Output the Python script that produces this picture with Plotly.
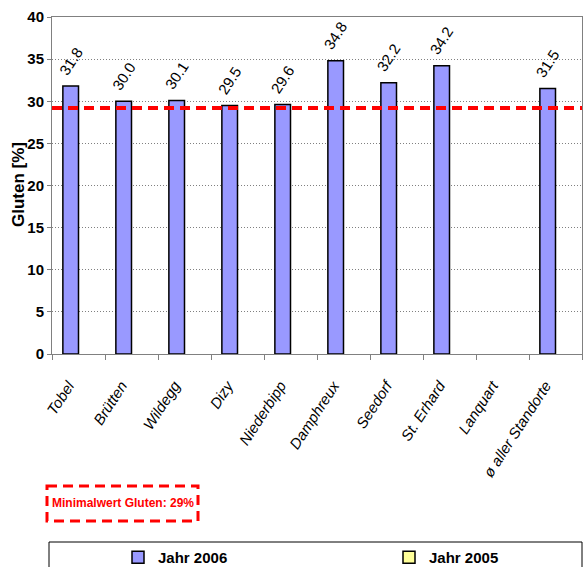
import plotly.graph_objects as go

# ---- data ----
categories = ["Tobel", "Brütten", "Wildegg", "Dizy", "Niederbipp", "Damphreux",
              "Seedorf", "St. Erhard", "Lanquart", "ø aller Standorte"]
gluten_2006 = [31.8, 30.0, 30.1, 29.5, 29.6, 34.8, 32.2, 34.2, None, 31.5]
gluten_2005 = [None] * len(categories)
labels_2006 = ["31.8", "30.0", "30.1", "29.5", "29.6", "34.8", "32.2", "34.2", "", "31.5"]
min_gluten = 29.2
y_ticks = [0, 5, 10, 15, 20, 25, 30, 35, 40]

W, H = 584, 567
ML, MR, MT, MB = 52, 2, 17, 213
PW = W - ML - MR
PH = H - MT - MB

def px_x(x):
    return (x - ML) / PW

def px_y(y):
    return (H - MB - y) / PH

bold_font = "Liberation Sans, Arial, sans-serif"
arial = "Liberation Sans, Arial, sans-serif"

fig = go.Figure()
fig.add_trace(go.Bar(
    x=categories, y=gluten_2006, name="Jahr 2006", legend="legend",
    marker=dict(color="#9999FF", line=dict(color="black", width=1.5)),
    cliponaxis=False,
))
fig.add_trace(go.Bar(
    x=categories, y=gluten_2005, name="Jahr 2005", legend="legend2",
    marker=dict(color="#FFFF99", line=dict(color="black", width=1.5)),
))

# rotated value labels above the 2006 bars
for cat, val, lab in zip(categories, gluten_2006, labels_2006):
    if val is None:
        continue
    fig.add_annotation(x=cat, y=val, xref="x", yref="y", text=lab,
                       showarrow=False, textangle=-57,
                       xanchor="center", yanchor="middle",
                       xshift=-8, yshift=25,
                       font=dict(family=arial, size=15, color="black"))

# threshold line
fig.add_shape(type="line", xref="paper", yref="y", x0=0, x1=1,
              y0=min_gluten, y1=min_gluten,
              line=dict(color="#FF0000", width=4, dash="10px,6px"))

# threshold text box
fig.add_shape(type="rect", xref="paper", yref="paper",
              x0=px_x(47), x1=px_x(198), y0=px_y(486), y1=px_y(521),
              line=dict(color="#FF0000", width=3, dash="10px,6px"))
fig.add_annotation(xref="paper", yref="paper", x=px_x(123), y=px_y(503),
                   xanchor="center", yanchor="middle",
                   text="<b>Minimalwert Gluten: 29%</b>", showarrow=False,
                   font=dict(family=bold_font, size=12, color="#FF0000"))

# y axis title
fig.add_annotation(xref="paper", yref="paper", x=px_x(18), y=px_y(185),
                   text="<b>Gluten [%]</b>", showarrow=False, textangle=-90,
                   xanchor="center", yanchor="middle",
                   font=dict(family=arial, size=17, color="black"))

# legend box
fig.add_shape(type="rect", xref="paper", yref="paper",
              x0=px_x(49), x1=px_x(582), y0=px_y(542), y1=px_y(580),
              line=dict(color="black", width=1))

legend_common = dict(orientation="h", xref="container", yref="container",
                     xanchor="left", yanchor="top", y=1 - 541 / H,
                     font=dict(family=bold_font, size=15, color="black", weight="bold"),
                     bgcolor="rgba(0,0,0,0)")

fig.update_layout(
    width=W, height=H,
    margin=dict(l=ML, r=MR, t=MT, b=MB, autoexpand=False),
    paper_bgcolor="white", plot_bgcolor="white",
    barmode="group", bargap=0.41, bargroupgap=0,
    showlegend=True,
    legend=dict(legend_common, x=118 / W),
    legend2=dict(legend_common, x=389 / W),
    font=dict(family=arial, color="black"),
)
fig.update_xaxes(
    type="category", tickson="boundaries", ticks="outside", ticklen=5,
    tickcolor="#808080", showline=True, linecolor="#808080", linewidth=1,
    mirror=True, tickangle=-57, ticklabelstandoff=16, ticklabelshift=-10,
    automargin=False,
    tickfont=dict(family=arial, size=15, color="black", style="italic"),
    showgrid=False,
)
fig.update_yaxes(
    range=[0, 40], tickvals=y_ticks, ticktext=[str(v) for v in y_ticks],
    ticks="outside", ticklen=4, tickcolor="#808080", automargin=False,
    showline=True, linecolor="#808080", linewidth=1, mirror=True,
    showgrid=True, gridcolor="#808080", gridwidth=1, griddash="1px,2px",
    zeroline=False,
    tickfont=dict(family=bold_font, size=15, color="black", weight="bold"),
)

fig.write_html("out.html", config={"displayModeBar": False},
               post_script="document.body.style.margin='0';")
